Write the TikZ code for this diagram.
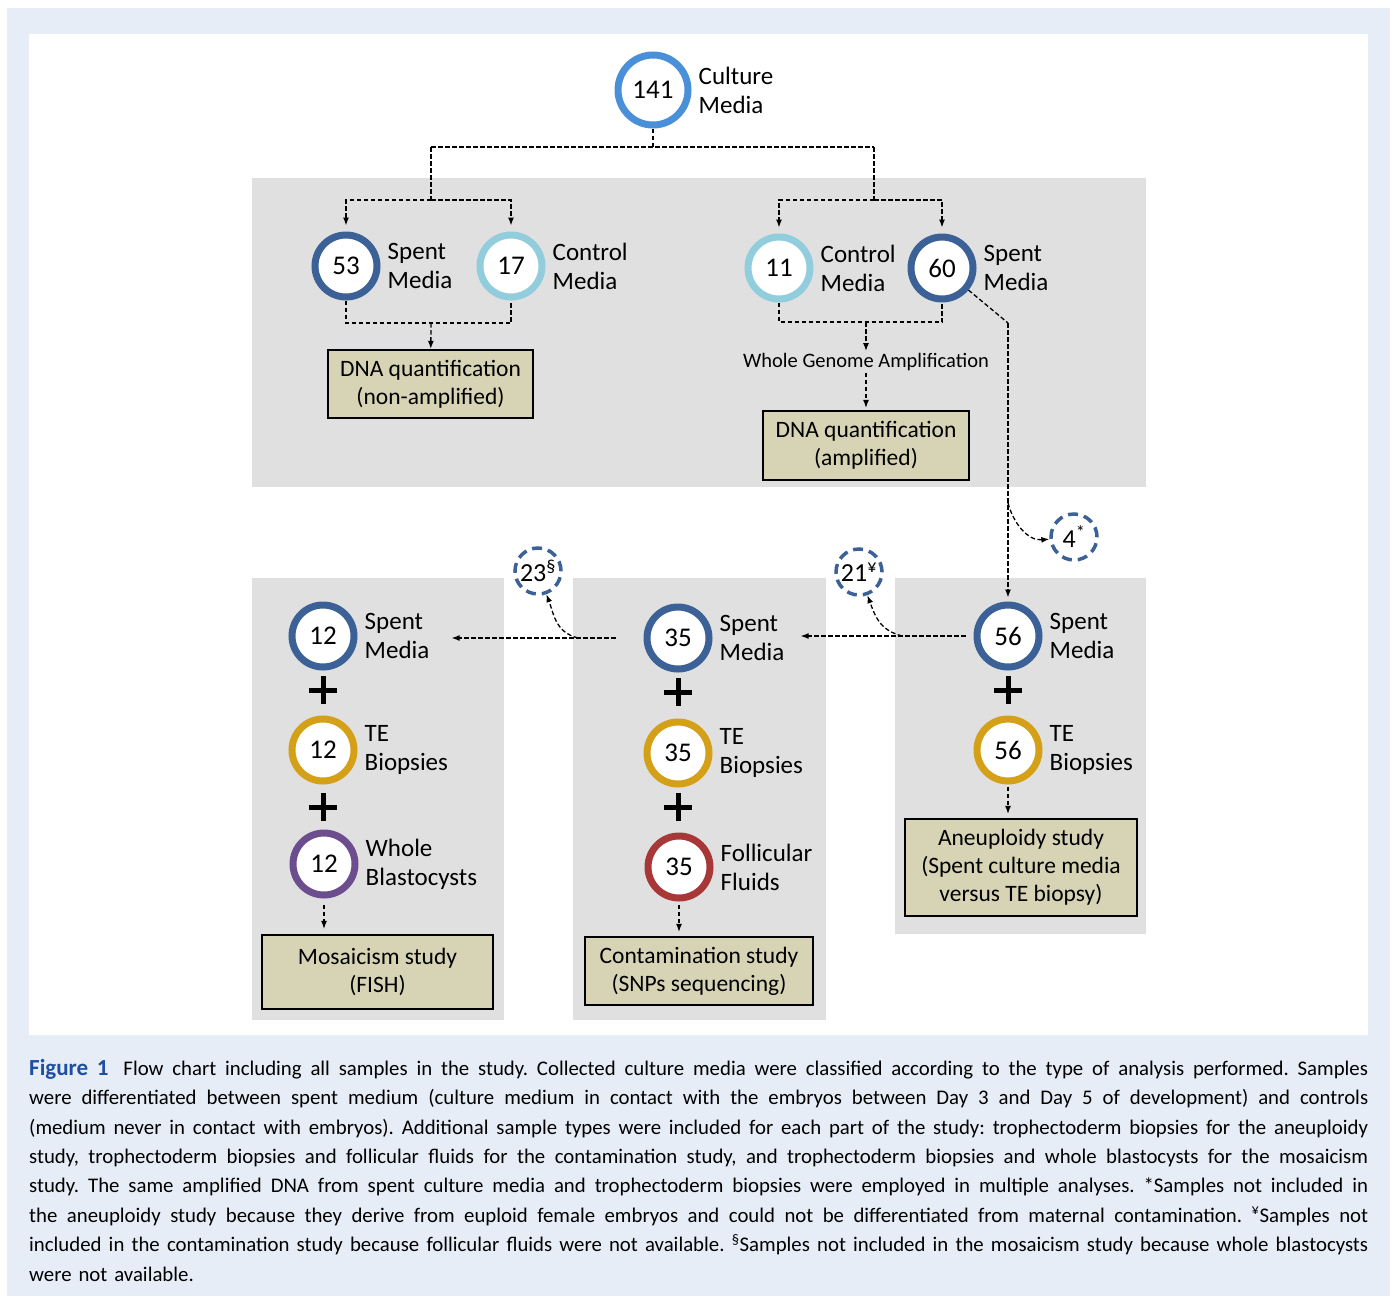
\documentclass[tikz,border=0pt]{standalone}
\usepackage{fontspec}
\setmainfont{Carlito}
\usetikzlibrary{shapes.misc, arrows.meta, positioning, calc}

\definecolor{midblue}{RGB}{74,144,217}
\definecolor{darkblue}{RGB}{59,97,150}
\definecolor{lightblue}{RGB}{146,205,221}
\definecolor{gold}{RGB}{212,160,23}
\definecolor{darkred}{RGB}{168,56,56}
\definecolor{blastpurple}{RGB}{108,78,142}
\definecolor{khaki}{RGB}{214,212,180}
\definecolor{panelgray}{RGB}{224,224,224}
\definecolor{framebg}{RGB}{230,237,247}
\definecolor{figblue}{RGB}{31,79,160}

\newcommand{\capsize}{\fontsize{20.8}{29.4}\selectfont\frenchspacing}
\newcommand{\capline}[1]{{\spaceskip=0.23em plus 2em minus 0.05em\xspaceskip=\spaceskip\hbox to 1339pt{#1}}}

\begin{document}
\begin{tikzpicture}[x=1pt, y=-1pt, >={Latex[length=8pt,width=6pt]}]
    \tikzstyle{ring} = [circle, draw, line width=7pt, fill=white, minimum size=62pt, inner sep=0pt, font=\fontsize{27}{30}\selectfont]
    \tikzstyle{dring} = [circle, draw=darkblue, line width=3.5pt, dash pattern=on 10pt off 6pt, fill=white, minimum size=46pt, inner sep=0pt, font=\fontsize{26}{30}\selectfont]
    \tikzstyle{lbl} = [inner sep=0pt, align=left, font=\fontsize{25}{29}\selectfont]
    \tikzstyle{result} = [draw, line width=2.2pt, fill=khaki, align=center, inner sep=0pt, font=\fontsize{23.5}{28}\selectfont]
    \tikzstyle{plus} = [cross out, draw, line width=5pt, minimum size=15pt, inner sep=0pt, rotate=45]
    \tikzstyle{dline} = [line width=1.3pt, dash pattern=on 4.5pt off 2.5pt]

    \useasboundingbox (0,0) rectangle (1395,1296);
    % frame and panels
    \fill[white] (0,0) rectangle (1395,1296);
    \fill[framebg] (7,8) rectangle (1390,1296);
    \fill[white] (29,34) rectangle (1368,1035);
    \fill[panelgray] (252,178) rectangle (1146,487);
    \fill[panelgray] (252,578) rectangle (504,1020);
    \fill[panelgray] (573,578) rectangle (826,1020);
    \fill[panelgray] (895,578) rectangle (1146,934);

    % top
    \node[ring, draw=midblue, minimum size=70pt] (c141) at (653,90) {141};
    \node[lbl, right=7pt of c141] (l141) {Culture\\Media};

    % upper left group
    \node[ring, draw=darkblue] (c53) at (346,266) {53};
    \node[lbl, right=7pt of c53] (l53) {Spent\\Media};
    \node[ring, draw=lightblue] (c17) at (511,266) {17};
    \node[lbl, right=7pt of c17] (l17) {Control\\Media};
    \node[result, minimum width=205pt, minimum height=68pt] (q1) at (430.5,384) {DNA quantification\\(non-amplified)};

    % upper right group
    \node[ring, draw=lightblue] (c11) at (779,268) {11};
    \node[lbl, right=7pt of c11] (l11) {Control\\Media};
    \node[ring, draw=darkblue] (c60) at (942,268) {60};
    \node[lbl, right=7pt of c60] (l60) {Spent\\Media};
    \node[inner sep=2pt, font=\fontsize{20.5}{24}\selectfont] (wga) at (866,362) {Whole Genome Amplification};
    \node[result, minimum width=206pt, minimum height=69pt] (q2) at (866,445.5) {DNA quantification\\(amplified)};

    % aneuploidy
    \node[dring] (n4) at (1074,537) {4\textsuperscript{*}};
    \node[ring, draw=darkblue] (a56s) at (1008,636) {56};
    \node[lbl, right=7pt of a56s] (l56s) {Spent\\Media};
    \node[plus] (pa) at (1008,690) {};
    \node[ring, draw=gold] (a56t) at (1008,750) {56};
    \node[lbl, right=7pt of a56t] (l56t) {TE\\Biopsies};
    \node[result, minimum width=232pt, minimum height=97pt] (aneu) at (1021,867.5) {Aneuploidy study\\(Spent culture media\\versus TE biopsy)};

    % contamination
    \node[dring] (n21) at (859,572) {21\textsuperscript{¥}};
    \node[ring, draw=darkblue] (m35s) at (678,638) {35};
    \node[lbl, right=7pt of m35s] (l35s) {Spent\\Media};
    \node[plus] (pm1) at (678,692) {};
    \node[ring, draw=gold] (m35t) at (678,753) {35};
    \node[lbl, right=7pt of m35t] (l35t) {TE\\Biopsies};
    \node[plus] (pm2) at (678,807) {};
    \node[ring, draw=darkred] (m35f) at (679,867) {35};
    \node[lbl, right=7pt of m35f] (l35f) {Follicular\\Fluids};
    \node[result, minimum width=228pt, minimum height=68pt] (cont) at (699,971) {Contamination study\\(SNPs sequencing)};

    % mosaicism
    \node[dring] (n23) at (538,571) {23\textsuperscript{§}};
    \node[ring, draw=darkblue] (s12s) at (323,636) {12};
    \node[lbl, right=7pt of s12s] (l12s) {Spent\\Media};
    \node[plus] (ps1) at (323,690) {};
    \node[ring, draw=gold] (s12t) at (323,750) {12};
    \node[lbl, right=7pt of s12t] (l12t) {TE\\Biopsies};
    \node[plus] (ps2) at (323,807) {};
    \node[ring, draw=blastpurple] (s12w) at (324,864) {12};
    \node[lbl, right=7pt of s12w] (l12w) {Whole\\Blastocysts};
    \node[result, minimum width=231pt, minimum height=74pt] (mosa) at (377.5,972) {Mosaicism study\\(FISH)};

    % split of the culture media
    \coordinate (jt) at (653,147);
    \coordinate (jl) at (431,147);
    \coordinate (jr) at (874,147);
    \coordinate (al) at (431,200);
    \coordinate (ar) at (874,200);
    \draw[dline] (c141) -- (jt);
    \draw[dline] (jl) -- (jr);
    \draw[dline] (jl) -- (al);
    \draw[dline] (jr) -- (ar);
    \draw[dline, ->, shorten >=6pt] (al) -| (c53);
    \draw[dline, ->, shorten >=6pt] (al) -| (c17);
    \draw[dline, ->, shorten >=6pt] (ar) -| (c11);
    \draw[dline, ->, shorten >=6pt] (ar) -| (c60);

    % quantification
    \coordinate (bl) at (431,323);
    \draw[dline] (c53) |- (bl) -| (c17);
    \draw[dline, ->] (bl) -- (q1);
    \coordinate (br) at (866,322);
    \draw[dline] (c11) |- (br) -| (c60);
    \draw[dline, ->] (br) -- (wga);
    \draw[dline, ->, shorten >=2pt] (wga) -- (q2);

    % spent media down to the studies
    \coordinate (dk) at (1008,323);
    \coordinate (bk) at (1008,503);
    \draw[dline] (c60) -- (dk);
    \draw[dline, ->, shorten >=4pt] (dk) -- (a56s);
    \draw[dline, ->] (bk) to[out=-75, in=185] (n4);
    \coordinate (b21) at (902,636);
    \draw[dline, ->, shorten <=8pt, shorten >=16pt] (a56s.west) -- (a56s.west -| l35s.east);
    \draw[dline, ->] (b21) to[out=165, in=-70, looseness=1.1] (n21);
    \coordinate (b23) at (578,638);
    \draw[dline, ->, shorten <=28pt, shorten >=22pt] (m35s.west) -- (m35s.west -| l12s.east);
    \draw[dline, ->] (b23) to[out=165, in=-70, looseness=1.1] (n23);

    \draw[dline, ->, shorten <=2pt, shorten >=4pt] (a56t.south) -- (a56t.south |- aneu.north);
    \draw[dline, ->, shorten <=3pt, shorten >=4pt] (m35f.south) -- (m35f.south |- cont.north);
    \draw[dline, ->, shorten <=6pt, shorten >=5pt] (s12w.south) -- (s12w.south |- mosa.north);

    % caption
    \node[anchor=north west, text width=1339pt, align=left, inner sep=0pt, font=\capsize] (cap) at (29,1059) {%
        \capline{\textcolor{figblue}{\fontsize{23}{29.4}\selectfont\bfseries Figure 1}\hspace{6pt} Flow chart including all samples in the study. Collected culture media were classified according to the type of analysis performed. Samples}
        \capline{were differentiated between spent medium (culture medium in contact with the embryos between Day 3 and Day 5 of development) and controls}
        \capline{(medium never in contact with embryos). Additional sample types were included for each part of the study: trophectoderm biopsies for the aneuploidy}
        \capline{study, trophectoderm biopsies and follicular fluids for the contamination study, and trophectoderm biopsies and whole blastocysts for the mosaicism}
        \capline{study. The same amplified DNA from spent culture media and trophectoderm biopsies were employed in multiple analyses. *Samples not included in}
        \capline{the aneuploidy study because they derive from euploid female embryos and could not be differentiated from maternal contamination. \textsuperscript{¥}Samples not}
        \capline{included in the contamination study because follicular fluids were not available. \textsuperscript{§}Samples not included in the mosaicism study because whole blastocysts}
        \hbox{were not available.}};
\end{tikzpicture}
\end{document}
